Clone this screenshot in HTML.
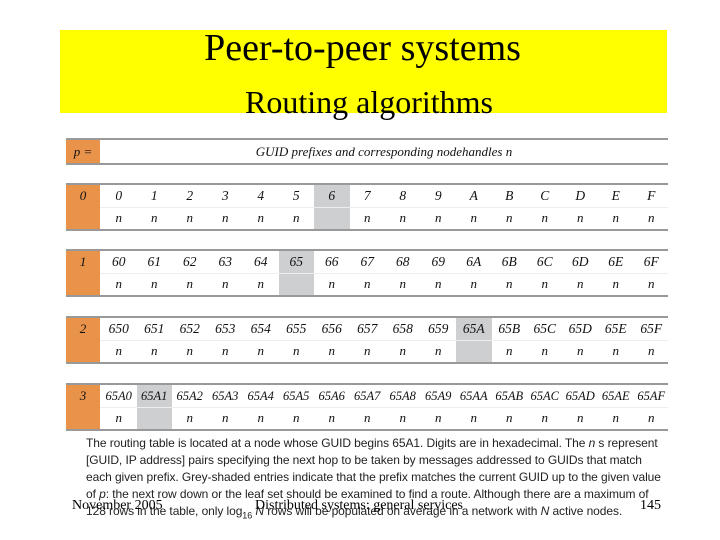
<!DOCTYPE html>
<html><head><meta charset="utf-8"><style>
body{margin:0;width:720px;height:540px;background:#fff;position:relative;overflow:hidden;font-family:"Liberation Serif",serif}
.a{position:absolute}
.yel{left:60px;top:30px;width:607px;height:83px;background:#ffff00}
.t1{left:0;width:725px;top:26px;text-align:center;font-size:38px;line-height:44px}
.t2{left:0;width:738px;top:84px;text-align:center;font-size:32px;line-height:36px}
.or{background:#e8924a}
.gl{height:2px;background:#999}
.cell{font-style:italic;font-size:13px;text-align:center;color:#111}
.para{left:86px;top:435px;width:600px;font-family:"Liberation Sans",sans-serif;font-size:12px;letter-spacing:-0.08px;line-height:17px;color:#222;white-space:nowrap}
.foot{font-size:14px;top:498px}
</style></head><body>
<div class="a yel"></div>
<div class="a t1">Peer-to-peer systems</div>
<div class="a t2">Routing algorithms</div>
<div id="tbl"></div>
<div class="a para">The routing table is located at a node whose GUID begins 65A1. Digits are in hexadecimal. The <i>n</i>  s represent<br>[GUID, IP address] pairs specifying the next hop to be taken by messages addressed to GUIDs that match<br>each given prefix. Grey-shaded entries indicate that the prefix matches the current GUID up to the given value<br>of <i>p</i>: the next row down or the leaf set should be examined to find a route. Although there are a maximum of<br>128 rows in the table, only log<sub style="font-size:9px;line-height:0">16</sub> <i>N</i> rows will be populated on average in a network with <i>N</i> active nodes.</div>
<div class="a foot" style="left:72px">November 2005</div>
<div class="a foot" style="left:255px">Distributed systems: general services</div>
<div class="a foot" style="left:640px">145</div>
<script>
const rowLabels=["0","1","2","3"];
const rowTops=[185,251,318,385];
const hex="0123456789ABCDEF".split("");
const prefixes=["","6","65","65A"];
const greyCol=[6,5,10,1];
const tbl=document.getElementById('tbl');
function mk(cls,l,t,w,h,txt,name){const d=document.createElement('div');d.className='a '+cls;d.style.left=l+'px';d.style.top=t+'px';d.style.width=w+'px';d.style.height=h+'px';if(txt!==undefined){d.textContent=txt;d.style.lineHeight=h+'px';}


tbl.appendChild(d);return d;}
mk('gl',66,138,602,2,undefined,'header-top-line');
mk('or cell',66,140,34,23,'p =','p-header');
mk('cell',100,140,568,23,'GUID prefixes and corresponding nodehandles n','prefix-header');
mk('gl',66,163,602,2,undefined,'header-bottom-line');
const cw=35.5,x0=101;
rowLabels.forEach((lab,r)=>{
 const y=rowTops[r];
 mk('gl',66,y-2,602,2,undefined,'row-top-line');
 mk('or cell',66,y,34,44,'','row-label-'+lab).innerHTML='<div style="line-height:22px">'+lab+'</div>';
 const g=greyCol[r];
 mk('',x0+g*cw,y,cw,44,undefined,'grey-cell').style.background='#cdcfd0';
 hex.forEach((h,c)=>{
  mk('cell',x0+c*cw,y,cw,22,prefixes[r]+h,'prefix-'+prefixes[r]+h).style.fontSize=(r==3?'12.5px':'13.5px');
  if(c!==g) mk('cell',x0+c*cw,y+22,cw,22,'n','nodehandle');
 });
 mk('',100,y+22,568,1,undefined,'row-divider').style.background='#eee';
 mk('gl',66,y+44,602,2,undefined,'row-bottom-line');
});
</script>
</body></html>
